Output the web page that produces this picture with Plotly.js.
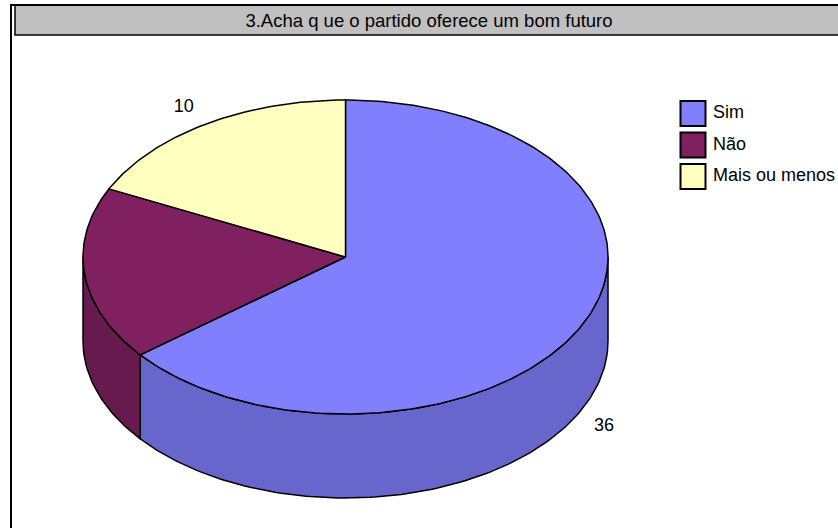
<!DOCTYPE html>
<html><head><meta charset="utf-8">
<script src="https://cdn.plot.ly/plotly-3.0.1.min.js"></script>
<style>html,body{margin:0;padding:0;background:#fff;} #chart{width:838px;height:528px;}</style>
</head><body><div id="chart"></div>
<script>
// ---- data ----
const categories = ['Sim', 'Não', 'Mais ou menos'];
const values = [36, 10, 10];
const chartTitle = '3.Acha q ue o partido oferece um bom futuro';

// ---- styles ----
const topColors = ['#8080FF', '#802060', '#FFFFC0'];
const sideColors = ['#6666CC', '#661A4D', '#CCCC99'];
const FONT = 'Liberation Sans, Arial, sans-serif';

// ---- layout geometry (pixels) ----
const W = 838, H = 528;
const CX = 345.5, CY = 257, RX = 262.5, RY = 157, DEPTH_PX = 84;
const TILT = RY / RX, DEPTH = DEPTH_PX / RX, PAD = 0.06;
const rad = d => d * Math.PI / 180;
function pt(deg, drop) { return [Math.sin(rad(deg)), TILT * Math.cos(rad(deg)) - (drop || 0)]; }
function arc(a, b, drop) {
  const n = Math.max(2, Math.ceil(Math.abs(b - a)));
  const xs = [], ys = [];
  for (let i = 0; i <= n; i++) { const p = pt(a + (b - a) * i / n, drop); xs.push(p[0]); ys.push(p[1]); }
  return [xs, ys];
}

const total = values.reduce((s, v) => s + v, 0);
const starts = [], ends = [];
let acc = 0;
values.forEach(v => { starts.push(acc / total * 360); acc += v; ends.push(acc / total * 360); });

const traces = [];
const outline = { color: '#000', width: 1.5 };
// side walls (front half only)
values.forEach((v, i) => {
  const s = Math.max(starts[i], 90), e = Math.min(ends[i], 270);
  if (e <= s) return;
  const top = arc(s, e, 0), bot = arc(e, s, DEPTH);
  traces.push({ type: 'scatter', mode: 'lines', x: [...top[0], ...bot[0], top[0][0]], y: [...top[1], ...bot[1], top[1][0]],
    fill: 'toself', fillcolor: sideColors[i], line: outline, hoverinfo: 'skip', showlegend: false });
});
// top faces
values.forEach((v, i) => {
  const a = arc(starts[i], ends[i], 0);
  traces.push({ type: 'scatter', mode: 'lines', x: [0, ...a[0], 0], y: [0, ...a[1], 0],
    fill: 'toself', fillcolor: topColors[i], line: outline, hoverinfo: 'skip', showlegend: false });
});
// value labels
const lx = [], ly = [];
values.forEach((v, i) => {
  const m = (starts[i] + ends[i]) / 2;
  const s = Math.sin(rad(m)), c = Math.cos(rad(m));
  lx.push(s + Math.sign(s) * 22 / RX);
  ly.push(TILT * c + Math.sign(c) * 17 / RX - (c < 0 ? DEPTH : 0));
});
traces.push({ type: 'scatter', mode: 'text', x: lx, y: ly, text: values.map(String), textposition: 'middle center',
  textfont: { family: FONT, size: 18, color: '#000' }, cliponaxis: false, hoverinfo: 'skip', showlegend: false });

// legend (own small subplot)
const legY = categories.map((c, i) => i);
traces.push({ type: 'scatter', mode: 'markers', xaxis: 'x2', yaxis: 'y2', x: categories.map(() => 0), y: legY,
  marker: { symbol: 'square', size: 25, color: topColors, line: { color: '#000', width: 2 } },
  cliponaxis: false, hoverinfo: 'skip', showlegend: false });
traces.push({ type: 'scatter', mode: 'text', xaxis: 'x2', yaxis: 'y2', x: categories.map(() => 20), y: legY,
  text: categories, textposition: 'middle right', textfont: { family: FONT, size: 18, color: '#000' },
  cliponaxis: false, hoverinfo: 'skip', showlegend: false });

const LEG_X = 693, LEG_TOP = 97.75, LEG_BOT = 192.25;
const layout = {
  width: W, height: H, margin: { l: 0, r: 0, t: 0, b: 0, pad: 0 },
  paper_bgcolor: '#fff', plot_bgcolor: 'rgba(0,0,0,0)', showlegend: false,
  title: { text: chartTitle, font: { family: FONT, size: 18.5, color: '#000' },
    x: 429 / W, xref: 'paper', xanchor: 'center', y: 1 - 21 / H, yref: 'container', yanchor: 'middle' },
  xaxis: { range: [-1 - PAD, 1 + PAD], domain: [(CX - (1 + PAD) * RX) / W, (CX + (1 + PAD) * RX) / W], visible: false, fixedrange: true },
  yaxis: { range: [-TILT - DEPTH - PAD, TILT + PAD],
    domain: [(H - (CY + (TILT + DEPTH + PAD) * RX)) / H, (H - (CY - (TILT + PAD) * RX)) / H], visible: false, fixedrange: true },
  xaxis2: { range: [0, W - LEG_X], domain: [LEG_X / W, 1], visible: false, anchor: 'y2', fixedrange: true },
  yaxis2: { range: [categories.length - 0.5, -0.5], domain: [(H - LEG_BOT) / H, (H - LEG_TOP) / H], visible: false, anchor: 'x2', fixedrange: true },
  shapes: [
    { type: 'rect', xref: 'paper', yref: 'paper', x0: 15 / W, x1: 1.05, y0: 1 - 35 / H, y1: 1 - 5 / H,
      fillcolor: '#C0C0C0', line: { color: '#000', width: 1.5 }, layer: 'below' },
    { type: 'rect', xref: 'paper', yref: 'paper', x0: 11 / W, x1: 1.05, y0: -0.05, y1: 1 - 5 / H,
      fillcolor: 'rgba(0,0,0,0)', line: { color: '#000', width: 2 }, layer: 'below' }
  ]
};
Plotly.newPlot('chart', traces, layout, { displayModeBar: false, staticPlot: true });
</script></body></html>
